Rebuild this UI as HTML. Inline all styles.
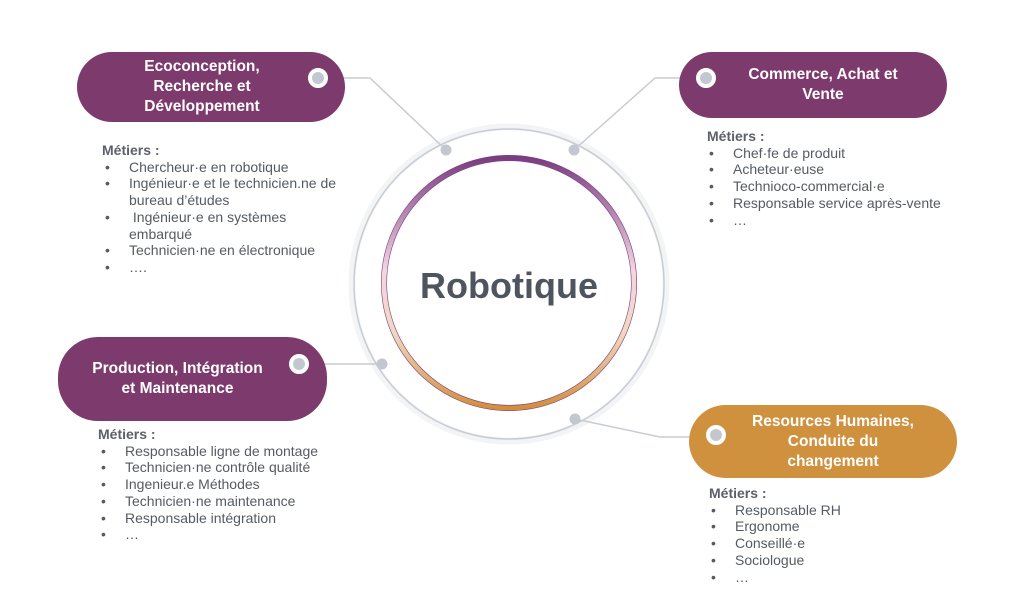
<!DOCTYPE html>
<html><head><meta charset="utf-8"><style>
html,body{margin:0;padding:0;background:#fff;}
#c{position:relative;width:1024px;height:591px;overflow:hidden;font-family:"Liberation Sans","DejaVu Sans",sans-serif;}
.pill{position:absolute;border-radius:40px;color:#fff;font-weight:bold;font-size:15.5px;line-height:20px;text-align:center;display:flex;align-items:center;justify-content:center;white-space:nowrap;}
.p{background:#7d3a6c;}
.o{background:#d0913e;}
.dot{position:absolute;width:12px;height:12px;border-radius:50%;background:#c3c7cf;border:4px solid #fff;}
.lst{position:absolute;font-size:14px;line-height:16.7px;color:#555b62;white-space:nowrap;}
.lst b{color:#5d6167;}
.li{position:relative;}
.li:before{content:"•";position:absolute;left:-24px;}
</style></head><body><div id="c">
<svg width="1024" height="591" style="position:absolute;left:0;top:0">
<circle cx="509" cy="284" r="157" fill="none" stroke="#f3f4f6" stroke-width="7"/>
<circle cx="509" cy="284" r="155" fill="none" stroke="#c8ccd3" stroke-width="1.5"/>
<defs><linearGradient id="g" x1="0" y1="0" x2="0" y2="1">
<stop offset="0" stop-color="#7a3d7e"/><stop offset="0.45" stop-color="#f3d6e0"/><stop offset="0.7" stop-color="#f0d8bd"/><stop offset="1" stop-color="#d38f38"/></linearGradient></defs>
<circle cx="509" cy="283" r="125" fill="none" stroke="#7b3d8e" stroke-width="6"/>
<circle cx="509" cy="283" r="125" fill="none" stroke="url(#g)" stroke-width="4.8"/>
<g fill="none" stroke="#c8ccd3" stroke-width="1.5">
<polyline points="330,78 370,78 446,150"/>
<polyline points="574,150 655,78 705,78"/>
<polyline points="300,364 382,364"/>
<polyline points="575,419 660,437 716,437"/>
</g>
<g fill="#c3c7cf"><circle cx="446" cy="150" r="5.5"/><circle cx="574" cy="150" r="5.5"/><circle cx="382" cy="364" r="5.5"/><circle cx="575" cy="419" r="5.5"/></g>
<text x="509" y="298" text-anchor="middle" font-family="Liberation Sans,sans-serif" font-weight="bold" font-size="36" fill="#4e555f">Robotique</text>
</svg>
<div class="pill p" style="left:77px;top:52px;width:268px;height:70px;"><span style="margin-right:18px">Ecoconception,<br>Recherche et<br>Développement</span></div>
<div class="dot" style="left:308px;top:68px"></div>
<div class="pill p" style="left:679px;top:52px;width:268px;height:66px;"><span style="margin-left:20px">Commerce, Achat et<br>Vente</span></div>
<div class="dot" style="left:696px;top:68px"></div>
<div class="pill p" style="left:58px;top:337px;width:269px;height:84px;"><span style="margin-right:30px">Production, Intégration<br>et Maintenance</span></div>
<div class="dot" style="left:289px;top:354px"></div>
<div class="pill o" style="left:689px;top:405px;width:268px;height:73px;"><span style="margin-left:20px">Resources Humaines,<br>Conduite du<br>changement</span></div>
<div class="dot" style="left:706px;top:425px"></div>
<div class="lst" style="left:129px;top:142px"><b style="margin-left:-27px">Métiers :</b>
<div class="li">Chercheur·e en robotique</div><div class="li">Ingénieur·e et le technicien.ne de</div><div>bureau d’études</div><div class="li">&nbsp;Ingénieur·e en systèmes</div><div>embarqué</div><div class="li">Technicien·ne en électronique</div><div class="li">….</div></div>
<div class="lst" style="left:733px;top:128px"><b style="margin-left:-26px">Métiers :</b>
<div class="li">Chef·fe de produit</div><div class="li">Acheteur·euse</div><div class="li">Technioco-commercial·e</div><div class="li">Responsable service après-vente</div><div class="li">…</div></div>
<div class="lst" style="left:125px;top:426px"><b style="margin-left:-27px">Métiers :</b>
<div class="li">Responsable ligne de montage</div><div class="li">Technicien·ne contrôle qualité</div><div class="li">Ingenieur.e Méthodes</div><div class="li">Technicien·ne maintenance</div><div class="li">Responsable intégration</div><div class="li">…</div></div>
<div class="lst" style="left:735px;top:485px"><b style="margin-left:-26px">Métiers :</b>
<div class="li">Responsable RH</div><div class="li">Ergonome</div><div class="li">Conseillé·e</div><div class="li">Sociologue</div><div class="li">…</div></div>
</div></body></html>
